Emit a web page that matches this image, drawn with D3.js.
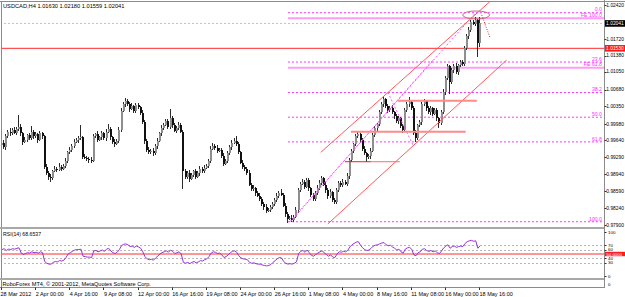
<!DOCTYPE html>
<html>
<head>
<meta charset="utf-8">
<script src="https://cdn.jsdelivr.net/npm/d3@7"></script>
<style>
  body { margin: 0; background: #fff; }
  svg { display: block; font-family: "Liberation Sans", Arial, sans-serif; }
</style>
</head>
<body>
<svg id="chart" width="625" height="297"></svg>
<script>
// USDCAD H4 closes (one per bar, 28 Mar -> 18 May 2012)
const firstOpen = 0.9955;
const closes = [
  0.9959,0.9951,0.9972,0.9982,0.9978,0.9986,0.9980,0.9988,0.9992,0.9978,
  0.9961,0.9965,0.9974,0.9968,0.9982,0.9972,0.9976,0.9965,0.9978,0.9972,
  0.9910,0.9897,0.9889,0.9887,0.9901,0.9906,0.9904,0.9910,0.9906,0.9912,
  0.9922,0.9939,0.9945,0.9953,0.9961,0.9965,0.9968,0.9970,0.9930,0.9928,
  0.9926,0.9924,0.9922,0.9972,0.9976,0.9965,0.9970,0.9978,0.9968,0.9982,
  0.9988,0.9970,0.9961,0.9957,0.9963,0.9986,1.0025,1.0038,1.0044,1.0038,
  1.0029,1.0034,1.0025,1.0036,1.0032,1.0021,1.0001,0.9963,0.9945,0.9939,
  0.9943,0.9937,0.9953,0.9963,0.9978,0.9990,0.9996,1.0003,0.9992,1.0009,
  0.9996,0.9984,0.9990,0.9996,0.9982,0.9901,0.9889,0.9897,0.9885,0.9893,
  0.9901,0.9889,0.9897,0.9906,0.9901,0.9908,0.9912,0.9922,0.9947,0.9953,
  0.9949,0.9943,0.9945,0.9932,0.9916,0.9922,0.9937,0.9951,0.9959,0.9963,
  0.9957,0.9939,0.9918,0.9910,0.9906,0.9897,0.9873,0.9864,0.9866,0.9856,
  0.9850,0.9844,0.9833,0.9827,0.9819,0.9821,0.9827,0.9833,0.9842,0.9850,
  0.9856,0.9852,0.9830,0.9812,0.9803,0.9805,0.9801,0.9807,0.9820,0.9861,
  0.9875,0.9879,0.9869,0.9882,0.9865,0.9851,0.9844,0.9855,0.9867,0.9877,
  0.9886,0.9873,0.9861,0.9849,0.9857,0.9842,0.9838,0.9861,0.9877,0.9873,
  0.9879,0.9875,0.9890,0.9923,0.9943,0.9956,0.9972,0.9976,0.9964,0.9947,
  0.9937,0.9929,0.9931,0.9943,0.9974,0.9989,0.9997,1.0022,1.0038,1.0048,
  1.0034,1.0026,1.0030,1.0022,1.0013,1.0003,1.0009,0.9993,0.9985,1.0026,
  1.0038,1.0042,1.0030,0.9980,0.9968,0.9995,1.0001,1.0038,1.0044,1.0030,
  1.0022,1.0030,1.0018,1.0026,1.0009,0.9999,1.0022,1.0063,1.0092,1.0116,
  1.0083,1.0108,1.0116,1.0104,1.0118,1.0125,1.0121,1.0153,1.0178,1.0191,
  1.0207,1.0203,1.0211,1.0163,1.02041
];
// upper / lower shadow length in pips above / below the body
const wickHi = [
  4,6,5,3,7,4,5,3,23,5, 4,6,3,5,12,4,6,3,5,4, 3,5,4,6,3,5,4,7,3,4,
  5,3,6,4,5,3,4,25,3,5, 4,3,6,5,4,7,3,5,4,6, 10,4,3,5,4,6,5,4,6,5,
  4,6,3,5,4,3,5,4,3,5, 4,6,3,5,4,6,3,5,4,20, 5,3,4,6,3,4,5,3,6,4,
  3,5,4,6,3,5,4,3,6,6, 4,5,3,4,6,3,5,4,6,5, 10,4,3,5,4,3,5,4,6,3,
  4,5,3,4,6,3,5,4,3,5, 4,8,3,5,4,3,5,4,6,5, 4,6,3,5,4,3,5,4,6,5,
  4,3,5,4,6,3,4,5,3,4, 5,4,6,5,4,3,4,5,3,4, 5,3,4,6,5,4,3,5,4,8,
  3,5,4,6,3,5,4,3,5,4, 5,10,3,4,5,3,4,5,4,3, 5,4,3,5,4,3,5,6,4,5,
  3,5,4,6,3,5,4,5,4,5, 4,5,6,3,14
];
const wickLo = [
  5,4,6,3,5,4,3,6,4,5, 6,3,5,4,3,5,4,6,3,5, 4,5,6,8,4,3,5,4,6,3,
  5,4,3,5,4,3,6,4,5,3, 4,6,5,3,4,5,3,6,4,5, 3,5,4,6,3,5,4,3,5,4,
  6,3,5,4,3,5,4,6,5,4, 3,5,4,6,3,5,4,3,5,4, 6,3,5,4,3,37,5,4,6,3,
  5,4,3,6,4,5,3,4,5,3, 4,6,3,5,4,3,5,4,6,3, 5,4,3,5,6,4,3,5,4,6,
  3,5,4,6,5,3,4,5,3,4, 5,3,4,6,8,3,5,4,3,5, 4,3,5,4,6,3,5,4,3,5,
  4,3,5,6,3,4,4,5,3,4, 5,3,4,6,3,5,4,3,5,4, 3,10,4,5,3,4,5,3,4,6,
  3,5,4,3,5,4,6,3,5,4, 3,5,4,6,8,4,3,5,4,6, 3,5,4,3,5,10,4,3,5,4,
  24,3,5,4,6,3,5,4,3,5, 4,3,5,27,7
];
// RSI(14) per bar
const rsi = [
  60,62,58,61,60,62,61,63,64,52, 49,51,53,52,55,53,54,52,55,53,
  33,29,27,27,31,33,32,35,34,36, 42,50,53,56,59,60,60,61,45,44,
  43,43,42,57,58,55,57,59,56,61, 63,57,53,51,54,60,69,72,73,71,
  67,68,65,68,66,63,55,44,39,37, 38,36,41,45,50,53,55,57,54,59,
  56,51,53,55,50,31,29,31,28,31, 33,30,32,35,34,37,39,44,52,55,
  54,51,52,48,42,44,48,53,56,57, 54,46,41,39,38,37,31,29,30,28,
  27,27,25,24,23,24,26,31,35,39, 42,41,33,29,27,28,27,29,32,51,
  56,58,54,59,53,47,45,49,52,55, 57,53,49,45,48,43,42,50,55,54,
  56,55,58,66,71,74,77,78,70,64, 60,58,59,63,68,70,71,73,75,76,
  71,69,70,66,63,59,61,55,52,61, 64,65,61,48,46,53,55,61,62,58,
  56,58,55,57,53,51,57,64,68,71, 63,67,68,65,67,68,67,74,78,80,
  81,79,80,63,68.6537
];

const timeLabels = ["28 Mar 2012", "2 Apr 00:00", "4 Apr 16:00", "9 Apr 08:00", "12 Apr 00:00",
  "16 Apr 16:00", "19 Apr 08:00", "24 Apr 00:00", "26 Apr 16:00", "1 May 08:00",
  "4 May 00:00", "8 May 16:00", "11 May 08:00", "16 May 00:00", "18 May 16:00"];
const barsPerLabel = 16;

const priceTicks = [1.0242, 1.0172, 1.0138, 1.0105, 1.0068, 1.0035, 0.9998, 0.9964,
  0.9929, 0.9894, 0.9859, 0.9824, 0.9790];
const rsiTicks = [100, 70, 60, 40, 30, 0];
const rsiLevels = [70, 60, 40, 30];

const bidPrice = 1.02041;
const redLinePrice = 1.0153;

// fibo retracement: from bar/price to bar/price
const fiboLow = {i: 134, p: 0.97967};
const fiboHigh = {i: 222, p: 1.02262};
const fiboLevels = [0, 23.6, 38.2, 50, 61.8, 100];
// fibo expansion A, B, C
const feA = 0.97967, feB = 1.00627, feC = 0.99487;
const feLevels = [61.8, 100];

// channel, trend and marker objects, in [bar, price]
const channelUp = [[149.4, 0.99393], [228.6, 1.02488]];
const channelDn = [[152.7, 0.97922], [236.5, 1.0129]];
const dotTrends = [
  [[134.9, 0.97967], [222, 1.02262]],
  [[135.5, 0.97981], [201.9, 1.0129]],
  [[180.8, 1.00627], [192.5, 0.99550]]
];
const hSegs = [
  {i0: 185.5, i1: 222.5, p: 1.00453},
  {i0: 163.5, i1: 217.3, p: 0.99816}
];
const lowSeg = {i0: 160.7, mid: 173, i1: 186.4, p: 0.9920};
const ellipse = {i: 222.2, p: 1.02215, di: 6.3, dp: 0.00082};
const arrow = [[224.8, 1.02215], [228.6, 1.01762]];

const header = "USDCAD,H4  1.01630 1.02180 1.01559 1.02041";
const rsiTitle = "RSI(14) 68.6537";
const footer = "RoboForex MT4, \u00a9 2001-2012, MetaQuotes Software Corp.";

// ---------- layout ----------
const svg = d3.select("#chart");
const axisX = 604.5;
const mainTop = 2, mainBottom = 227;
const rsiTop = 229, rsiBottom = 278;

const x = d3.scaleLinear().domain([0, 224]).range([2, 480]);
const y = d3.scaleLinear().domain([0.979, 1.0242]).range([225, 5]);
const yR = d3.scaleLinear().domain([0, 100]).range([276, 232]);

const defs = svg.append("defs");
defs.append("clipPath").attr("id", "clipMain")
  .append("rect").attr("x", 2).attr("y", mainTop).attr("width", axisX - 2).attr("height", mainBottom - mainTop);
defs.append("clipPath").attr("id", "clipRsi")
  .append("rect").attr("x", 2).attr("y", rsiTop).attr("width", axisX - 2).attr("height", rsiBottom - rsiTop);

const main = svg.append("g").attr("clip-path", "url(#clipMain)");

// horizontal lines
main.append("line")
  .attr("x1", 0).attr("x2", axisX).attr("y1", y(bidPrice)).attr("y2", y(bidPrice))
  .attr("stroke", "#c8c0b8").attr("stroke-dasharray", "2,2");
main.append("line")
  .attr("x1", 0).attr("x2", axisX).attr("y1", y(redLinePrice)).attr("y2", y(redLinePrice))
  .attr("stroke", "#ff2a2a");

// fibo retracement levels
const fiboP = l => fiboHigh.p - l / 100 * (fiboHigh.p - fiboLow.p);
main.append("g").selectAll("line").data(fiboLevels).join("line")
  .attr("x1", x(fiboLow.i)).attr("x2", axisX)
  .attr("y1", d => y(fiboP(d))).attr("y2", d => y(fiboP(d)))
  .attr("stroke", "#ff33ff").attr("stroke-dasharray", "2,2");
// fibo expansion levels
const feP = l => feC + l / 100 * (feB - feA);
main.append("g").selectAll("line").data(feLevels).join("line")
  .attr("x1", x(fiboLow.i)).attr("x2", axisX)
  .attr("y1", d => y(feP(d))).attr("y2", d => y(feP(d)))
  .attr("stroke", "#ff9cf5").attr("stroke-width", 2);

// candles
const bars = closes.map((c, i) => {
  const o = i ? closes[i - 1] : firstOpen;
  return {i, o, c,
    h: Math.max(o, c) + wickHi[i] / 1e4,
    l: Math.min(o, c) - wickLo[i] / 1e4};
});
const cg = main.append("g").attr("shape-rendering", "crispEdges");
cg.selectAll("line").data(bars).join("line")
  .attr("x1", d => Math.round(x(d.i)) - 0.5).attr("x2", d => Math.round(x(d.i)) - 0.5)
  .attr("y1", d => y(d.h)).attr("y2", d => y(d.l))
  .attr("stroke", "#2a2a2a");
cg.selectAll("rect").data(bars).join("rect")
  .attr("x", d => Math.round(x(d.i)) - 1)
  .attr("width", 2)
  .attr("y", d => y(Math.max(d.o, d.c)))
  .attr("height", d => Math.max(1, Math.abs(y(d.o) - y(d.c))))
  .attr("fill", d => d.c >= d.o ? "#8e8e8e" : "#111");

// objects
const line = d3.line().x(d => x(d[0])).y(d => y(d[1]));
main.selectAll(".dot").data(dotTrends).join("path")
  .attr("d", line).attr("fill", "none")
  .attr("stroke", "#ff55ff").attr("stroke-dasharray", "2,2");
main.selectAll(".chan").data([channelUp, channelDn]).join("path")
  .attr("d", line).attr("fill", "none").attr("stroke", "#ff5a5a");
main.append("g").selectAll("line").data(hSegs).join("line")
  .attr("x1", d => x(d.i0)).attr("x2", d => x(d.i1))
  .attr("y1", d => y(d.p)).attr("y2", d => y(d.p))
  .attr("stroke", "#ff8a8a").attr("stroke-width", 2);
main.append("line")
  .attr("x1", x(lowSeg.i0)).attr("x2", x(lowSeg.mid))
  .attr("y1", y(lowSeg.p)).attr("y2", y(lowSeg.p))
  .attr("stroke", "#e82020");
main.append("line")
  .attr("x1", x(lowSeg.mid)).attr("x2", x(lowSeg.i1))
  .attr("y1", y(lowSeg.p)).attr("y2", y(lowSeg.p))
  .attr("stroke", "#ff6a6a");
main.append("ellipse")
  .attr("cx", x(ellipse.i)).attr("cy", y(ellipse.p))
  .attr("rx", x(ellipse.i + ellipse.di) - x(ellipse.i))
  .attr("ry", y(ellipse.p - ellipse.dp) - y(ellipse.p))
  .attr("fill", "none").attr("stroke", "#c07070");
main.append("path").attr("d", line(arrow))
  .attr("fill", "none").attr("stroke", "#cc3030").attr("stroke-dasharray", "1,1.5");

// ---------- RSI window ----------
const rg = svg.append("g").attr("clip-path", "url(#clipRsi)");
rg.append("g").selectAll("line").data(rsiLevels).join("line")
  .attr("x1", 0).attr("x2", axisX)
  .attr("y1", d => Math.round(yR(d)) + 0.5).attr("y2", d => Math.round(yR(d)) + 0.5)
  .attr("stroke", "#b8b8b8").attr("stroke-dasharray", "2,2");
rg.append("line")
  .attr("x1", 0).attr("x2", axisX).attr("y1", yR(50)).attr("y2", yR(50))
  .attr("stroke", "#ff2a2a");
rg.append("path").datum(rsi)
  .attr("d", d3.line().x((d, i) => x(i)).y(d => yR(d)))
  .attr("fill", "none").attr("stroke", "#9b30d9").attr("stroke-width", 1);

// ---------- frames ----------
const frame = svg.append("g").attr("shape-rendering", "crispEdges");
frame.append("line").attr("x1", 0).attr("x2", 625).attr("y1", 1.5).attr("y2", 1.5).attr("stroke", "#8a8a8a");
frame.append("line").attr("x1", 1.5).attr("x2", 1.5).attr("y1", 1.5).attr("y2", 287).attr("stroke", "#8a8a8a");
frame.append("line").attr("x1", 0).attr("x2", axisX).attr("y1", 228).attr("y2", 228).attr("stroke", "#a8a8a8").attr("stroke-width", 2);
frame.append("line").attr("x1", 0).attr("x2", axisX).attr("y1", 279).attr("y2", 279).attr("stroke", "#a8a8a8").attr("stroke-width", 2);
frame.append("line").attr("x1", 0).attr("x2", axisX).attr("y1", 287.5).attr("y2", 287.5).attr("stroke", "#8a8a8a");
frame.append("line").attr("x1", axisX).attr("x2", axisX).attr("y1", 0).attr("y2", 288).attr("stroke", "#8a8a8a");

// price axis
const fmt5 = d3.format(".5f");
const pa = svg.append("g").attr("font-size", 4.9).attr("fill", "#000");
pa.selectAll("line").data(priceTicks).join("line")
  .attr("x1", axisX).attr("x2", axisX + 2)
  .attr("y1", d => Math.round(y(d)) + 0.5).attr("y2", d => Math.round(y(d)) + 0.5)
  .attr("stroke", "#333");
pa.selectAll("text").data(priceTicks).join("text")
  .attr("x", 606.3).attr("y", d => y(d) + 1.8).text(d => fmt5(d));

function axisBox(yy, label, color) {
  svg.append("rect").attr("x", axisX + 0.5).attr("y", yy - 3.3).attr("width", 20).attr("height", 6.6).attr("fill", color);
  svg.append("text").attr("x", 606.1).attr("y", yy + 1.8).attr("font-size", 4.9)
    .attr("fill", "#fff").text(label);
}
axisBox(y(bidPrice), fmt5(bidPrice), "#000");
axisBox(y(redLinePrice), fmt5(redLinePrice), "#ff1a1a");

// rsi axis
const ra = svg.append("g").attr("font-size", 4.4).attr("fill", "#000");
ra.selectAll("text").data(rsiTicks).join("text")
  .attr("x", 608).attr("y", d => yR(d) + 1.5).text(d => d);
ra.selectAll("line").data(rsiTicks).join("line")
  .attr("x1", axisX).attr("x2", axisX + 2)
  .attr("y1", d => Math.round(yR(d)) + 0.5).attr("y2", d => Math.round(yR(d)) + 0.5)
  .attr("stroke", "#333");
svg.append("rect").attr("x", axisX + 0.5).attr("y", yR(50) - 2.2).attr("width", 20).attr("height", 4.4).attr("fill", "#ff1a1a");
svg.append("text").attr("x", 606.3).attr("y", yR(50) + 1.5).attr("font-size", 4.4).attr("fill", "#fff").text("50.0000");
svg.append("text").attr("x", 608).attr("y", 285.5).attr("font-size", 4.4).text("0");

// fibo labels
const fl = svg.append("g").attr("font-size", 5.2).attr("fill", "#ff33ff").attr("text-anchor", "end");
fl.selectAll(".f").data(fiboLevels).join("text")
  .attr("x", 602).attr("y", d => y(fiboP(d)) - 1.2).text(d => d.toFixed(1));
fl.selectAll(".fe").data(feLevels).join("text")
  .attr("x", 602).attr("y", d => y(feP(d)) - 1.5).text(d => "FE " + d.toFixed(1));

// time axis
const ta = svg.append("g").attr("font-size", 5.5).attr("fill", "#000");
ta.selectAll("line").data(timeLabels).join("line")
  .attr("x1", (d, k) => Math.round(x(k * barsPerLabel)) - 0.5)
  .attr("x2", (d, k) => Math.round(x(k * barsPerLabel)) - 0.5)
  .attr("y1", 287.5).attr("y2", 290).attr("stroke", "#333");
ta.selectAll("text").data(timeLabels).join("text")
  .attr("x", (d, k) => k ? x(k * barsPerLabel) - 0.5 : 0.5)
  .attr("y", 295.5).text(d => d);

// texts
svg.append("text").attr("x", 3).attr("y", 8).attr("font-size", 5.7).text(header);
svg.append("text").attr("x", 3).attr("y", 235.5).attr("font-size", 5.2).text(rsiTitle);
svg.append("text").attr("x", 2.5).attr("y", 286).attr("font-size", 5.6).text(footer);
</script>
</body>
</html>
